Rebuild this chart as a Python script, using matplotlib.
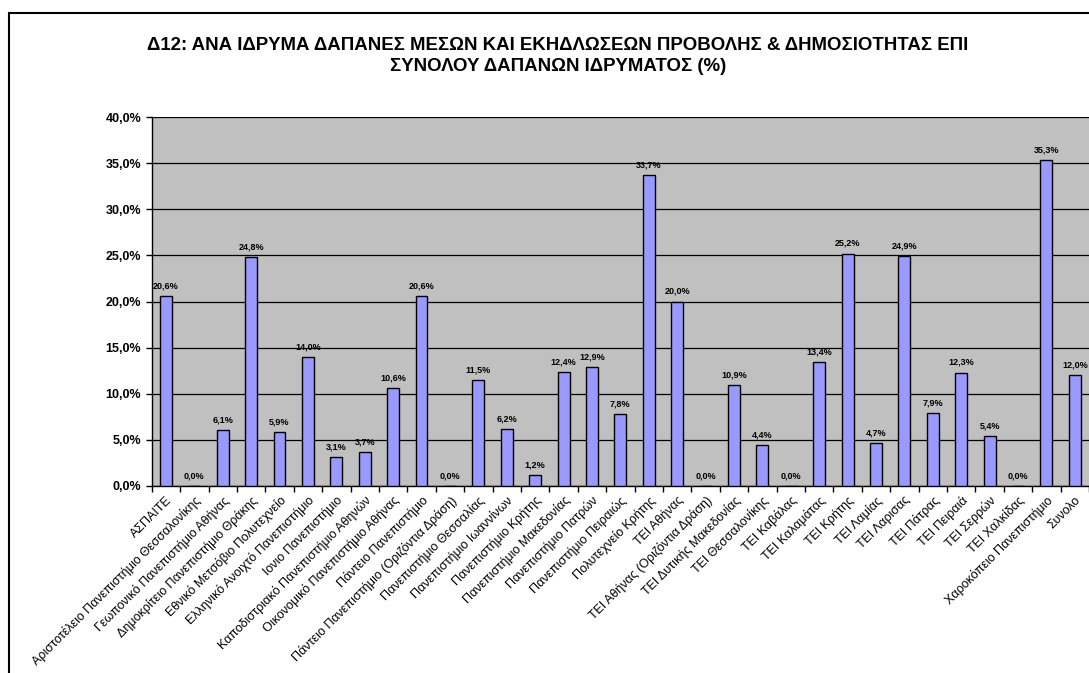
import matplotlib
matplotlib.use("Agg")
import matplotlib.pyplot as plt
from matplotlib.patches import Rectangle
import numpy as np

plt.rcParams['font.family'] = ['Liberation Sans', 'DejaVu Sans']

categories = [
    "ΑΣΠΑΙΤΕ",
    "Αριστοτέλειο Πανεπιστήμιο Θεσσαλονίκης",
    "Γεωπονικό Πανεπιστήμιο Αθήνας",
    "Δημοκρίτειο Πανεπιστήμιο Θράκης",
    "Εθνικό Μετσόβιο Πολυτεχνείο",
    "Ελληνικό Ανοιχτό Πανεπιστήμιο",
    "Ιονιο Πανεπιστήμιο",
    "Καποδιστριακό Πανεπιστήμιο Αθηνών",
    "Οικονομικό Πανεπιστήμιο Αθήνας",
    "Πάντειο Πανεπιστήμιο",
    "Πάντειο Πανεπιστήμιο (Οριζόντια Δράση)",
    "Πανεπιστήμιο Θεσσαλίας",
    "Πανεπιστήμιο Ιωαννίνων",
    "Πανεπιστήμιο Κρήτης",
    "Πανεπιστήμιο Μακεδονίας",
    "Πανεπιστήμιο Πατρών",
    "Πανεπιστήμιο Πειραιώς",
    "Πολυτεχνείο Κρήτης",
    "ΤΕΙ Αθήνας",
    "ΤΕΙ Αθήνας (Οριζόντια Δράση)",
    "ΤΕΙ Δυτικής Μακεδονίας",
    "ΤΕΙ Θεσσαλονίκης",
    "ΤΕΙ Καβάλας",
    "ΤΕΙ Καλαμάτας",
    "ΤΕΙ Κρήτης",
    "ΤΕΙ Λαμίας",
    "ΤΕΙ Λαρισας",
    "ΤΕΙ Πάτρας",
    "ΤΕΙ Πειραιά",
    "ΤΕΙ Σερρών",
    "ΤΕΙ Χαλκίδας",
    "Χαροκόπειο Πανεπιστήμιο",
    "Συνολο",
]
values = [20.6, 0.0, 6.1, 24.8, 5.9, 14.0, 3.1, 3.7, 10.6, 20.6, 0.0,
          11.5, 6.2, 1.2, 12.4, 12.9, 7.8, 33.7, 20.0, 0.0, 10.9, 4.4,
          0.0, 13.4, 25.2, 4.7, 24.9, 7.9, 12.3, 5.4, 0.0, 35.3, 12.0]
yticks = [0, 5, 10, 15, 20, 25, 30, 35, 40]
title = "Δ12: ΑΝΑ ΙΔΡΥΜΑ ΔΑΠΑΝΕΣ ΜΕΣΩΝ ΚΑΙ ΕΚΗΔΛΩΣΕΩΝ ΠΡΟΒΟΛΗΣ & ΔΗΜΟΣΙΟΤΗΤΑΣ ΕΠΙ\nΣΥΝΟΛΟΥ ΔΑΠΑΝΩΝ ΙΔΡΥΜΑΤΟΣ (%)"

def fmt(v):
    return f"{v:.1f}".replace(".", ",") + "%"

W, H = 1089, 673
fig = plt.figure(figsize=(W / 100, H / 100), dpi=100)
left, right, top, bottom = 151.7, 1089.0, 117.0, 486.0
ax = fig.add_axes([left / W, 1 - bottom / H, (right - left) / W, (bottom - top) / H])
ax.set_facecolor("#C0C0C0")

x = np.arange(len(categories))
ax.bar(x, values, width=0.42, color="#9999FF", edgecolor="black", linewidth=1.0, zorder=3)

for xi, v in zip(x, values):
    ax.annotate(fmt(v), (xi, v), xytext=(0, 4), textcoords="offset points",
                ha="center", va="bottom", fontsize=6.5, fontweight="bold", zorder=4)

ax.set_xlim(-0.5, len(categories) - 0.5)
ax.set_ylim(0, 40)
ax.set_yticks(yticks)
ax.set_yticklabels([fmt(t) for t in yticks], fontsize=9, fontweight="bold")
ax.yaxis.grid(True, color="black", linewidth=0.9, zorder=1)
ax.set_axisbelow(True)

ax.set_xticks(x)
ax.set_xticklabels(categories, rotation=45, ha="right", rotation_mode="anchor", fontsize=9)
ax.tick_params(axis="x", length=0, pad=6)
ax.set_xticks(np.arange(-0.5, len(categories), 1.0), minor=True)
ax.tick_params(axis="x", which="minor", length=4, width=1, color="black", direction="out")
ax.tick_params(axis="y", length=4, width=1, direction="out")

for s in ["top", "right"]:
    ax.spines[s].set_visible(False)
for s in ["left", "bottom"]:
    ax.spines[s].set_color("black")
    ax.spines[s].set_linewidth(1.0)

fig.text(558 / W, 1 - 56 / H, title, ha="center", va="center", fontsize=13.4,
         fontweight="bold", linespacing=1.25)

fig.patches.append(Rectangle((9 / W, -0.1), 1.2, (H - 13) / H + 0.1, fill=False,
                             edgecolor="black", linewidth=1.5, transform=fig.transFigure))

fig.savefig("out.png", dpi=100)
